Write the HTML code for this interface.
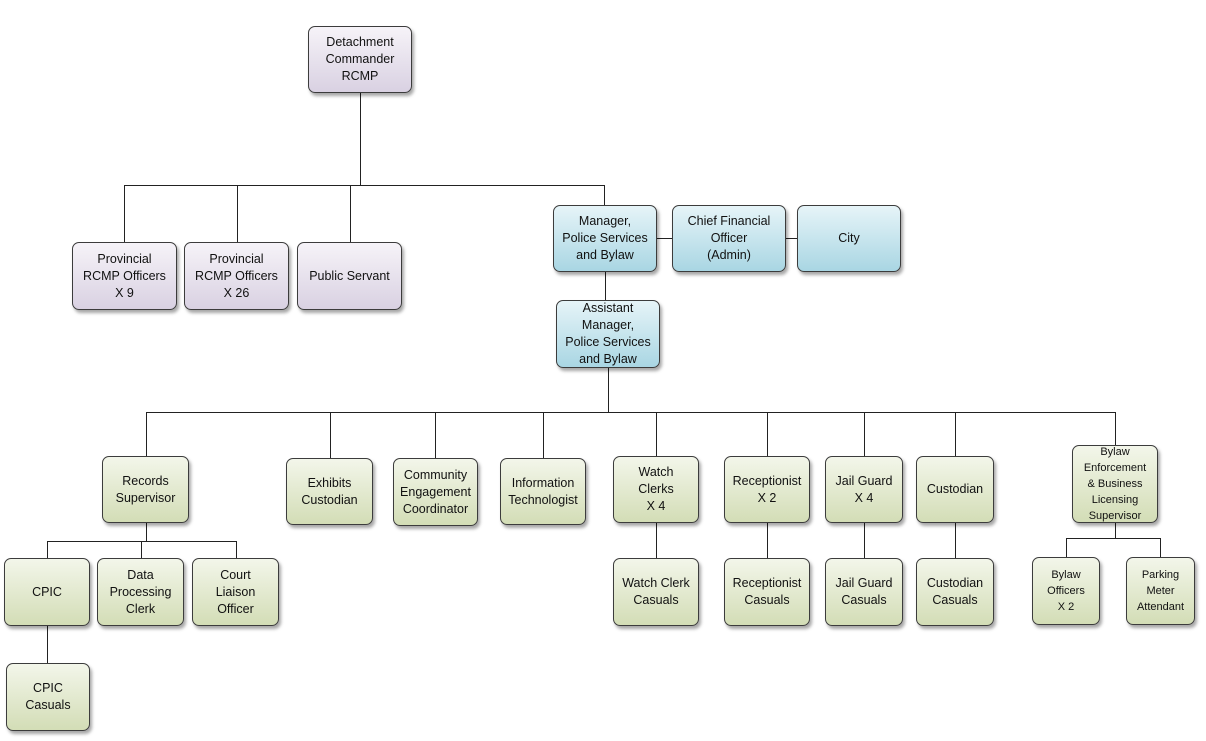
<!DOCTYPE html>
<html><head><meta charset="utf-8"><style>
body{margin:0;background:#fff;width:1206px;height:741px;position:relative;overflow:hidden;font-family:"Liberation Sans",sans-serif;}
.b{position:absolute;box-sizing:border-box;border:1px solid #3c3c3c;border-radius:7px;display:flex;align-items:center;justify-content:center;text-align:center;font-size:12.5px;line-height:17px;color:#111;box-shadow:2px 3px 3px rgba(0,0,0,.35);}
.p{background:linear-gradient(#f6f3f8,#d9d1e2);}
.c{background:linear-gradient(#e6f4f8,#a9d6e3);}
.g{background:linear-gradient(#f3f6ea,#d3ddb6);}
.s{font-size:11px;line-height:16px;}
.h{position:absolute;height:1px;background:#222;}
.v{position:absolute;width:1px;background:#222;}
</style></head><body>
<!-- lines -->
<div class="v" style="left:360px;top:93px;height:92px"></div>
<div class="h" style="left:124px;top:185px;width:481px"></div>
<div class="v" style="left:124px;top:185px;height:57px"></div>
<div class="v" style="left:237px;top:185px;height:57px"></div>
<div class="v" style="left:350px;top:185px;height:57px"></div>
<div class="v" style="left:604px;top:185px;height:20px"></div>
<div class="h" style="left:657px;top:238px;width:15px"></div>
<div class="h" style="left:786px;top:238px;width:11px"></div>
<div class="v" style="left:605px;top:272px;height:28px"></div>
<div class="v" style="left:608px;top:368px;height:44px"></div>
<div class="h" style="left:146px;top:412px;width:970px"></div>
<div class="v" style="left:146px;top:412px;height:44px"></div>
<div class="v" style="left:330px;top:412px;height:46px"></div>
<div class="v" style="left:435px;top:412px;height:46px"></div>
<div class="v" style="left:543px;top:412px;height:46px"></div>
<div class="v" style="left:656px;top:412px;height:44px"></div>
<div class="v" style="left:767px;top:412px;height:44px"></div>
<div class="v" style="left:864px;top:412px;height:44px"></div>
<div class="v" style="left:955px;top:412px;height:44px"></div>
<div class="v" style="left:1115px;top:412px;height:33px"></div>
<div class="v" style="left:146px;top:523px;height:18px"></div>
<div class="h" style="left:47px;top:541px;width:190px"></div>
<div class="v" style="left:47px;top:541px;height:17px"></div>
<div class="v" style="left:141px;top:541px;height:17px"></div>
<div class="v" style="left:236px;top:541px;height:17px"></div>
<div class="v" style="left:47px;top:626px;height:37px"></div>
<div class="v" style="left:656px;top:523px;height:35px"></div>
<div class="v" style="left:767px;top:523px;height:35px"></div>
<div class="v" style="left:864px;top:523px;height:35px"></div>
<div class="v" style="left:955px;top:523px;height:35px"></div>
<div class="v" style="left:1115px;top:523px;height:15px"></div>
<div class="h" style="left:1066px;top:538px;width:95px"></div>
<div class="v" style="left:1066px;top:538px;height:19px"></div>
<div class="v" style="left:1160px;top:538px;height:19px"></div>
<!-- boxes -->
<div class="b p" style="left:308px;top:26px;width:104px;height:67px">Detachment<br>Commander<br>RCMP</div>
<div class="b p" style="left:72px;top:242px;width:105px;height:68px">Provincial<br>RCMP Officers<br>X 9</div>
<div class="b p" style="left:184px;top:242px;width:105px;height:68px">Provincial<br>RCMP Officers<br>X 26</div>
<div class="b p" style="left:297px;top:242px;width:105px;height:68px">Public Servant</div>
<div class="b c" style="left:553px;top:205px;width:104px;height:67px">Manager,<br>Police Services<br>and Bylaw</div>
<div class="b c" style="left:672px;top:205px;width:114px;height:67px">Chief Financial<br>Officer<br>(Admin)</div>
<div class="b c" style="left:797px;top:205px;width:104px;height:67px">City</div>
<div class="b c" style="left:556px;top:300px;width:104px;height:68px">Assistant<br>Manager,<br>Police Services<br>and Bylaw</div>
<div class="b g" style="left:102px;top:456px;width:87px;height:67px">Records<br>Supervisor</div>
<div class="b g" style="left:286px;top:458px;width:87px;height:67px">Exhibits<br>Custodian</div>
<div class="b g" style="left:393px;top:458px;width:85px;height:68px">Community<br>Engagement<br>Coordinator</div>
<div class="b g" style="left:500px;top:458px;width:86px;height:67px">Information<br>Technologist</div>
<div class="b g" style="left:613px;top:456px;width:86px;height:67px">Watch<br>Clerks<br>X 4</div>
<div class="b g" style="left:724px;top:456px;width:86px;height:67px">Receptionist<br>X 2</div>
<div class="b g" style="left:825px;top:456px;width:78px;height:67px">Jail Guard<br>X 4</div>
<div class="b g" style="left:916px;top:456px;width:78px;height:67px">Custodian</div>
<div class="b g s" style="left:1072px;top:445px;width:86px;height:78px">Bylaw<br>Enforcement<br>&amp; Business<br>Licensing<br>Supervisor</div>
<div class="b g" style="left:4px;top:558px;width:86px;height:68px">CPIC</div>
<div class="b g" style="left:97px;top:558px;width:87px;height:68px">Data<br>Processing<br>Clerk</div>
<div class="b g" style="left:192px;top:558px;width:87px;height:68px">Court<br>Liaison<br>Officer</div>
<div class="b g" style="left:6px;top:663px;width:84px;height:68px">CPIC<br>Casuals</div>
<div class="b g" style="left:613px;top:558px;width:86px;height:68px">Watch Clerk<br>Casuals</div>
<div class="b g" style="left:724px;top:558px;width:86px;height:68px">Receptionist<br>Casuals</div>
<div class="b g" style="left:825px;top:558px;width:78px;height:68px">Jail Guard<br>Casuals</div>
<div class="b g" style="left:916px;top:558px;width:78px;height:68px">Custodian<br>Casuals</div>
<div class="b g s" style="left:1032px;top:557px;width:68px;height:68px">Bylaw<br>Officers<br>X 2</div>
<div class="b g s" style="left:1126px;top:557px;width:69px;height:68px">Parking<br>Meter<br>Attendant</div>
</body></html>
